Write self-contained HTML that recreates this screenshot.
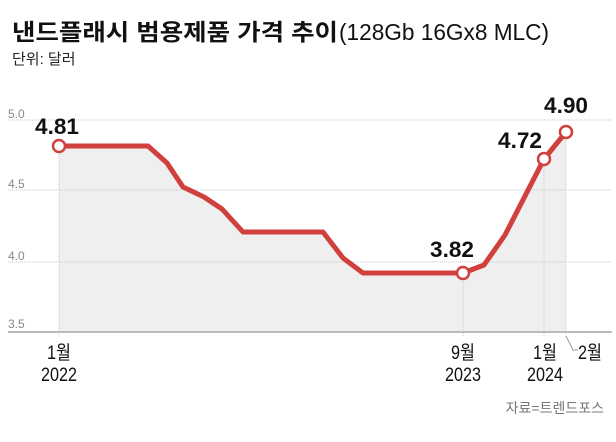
<!DOCTYPE html>
<html><head><meta charset="utf-8"><style>
html,body{margin:0;padding:0;background:#fff;width:616px;height:442px;overflow:hidden}
text{font-family:"Liberation Sans","Noto Sans CJK KR",sans-serif}
</style></head><body>
<svg width="616" height="442" viewBox="0 0 616 442" xmlns="http://www.w3.org/2000/svg">
<text x="12" y="40" font-size="23" font-weight="bold" fill="#111" textLength="326" lengthAdjust="spacingAndGlyphs">낸드플래시 범용제품 가격 추이</text>
<text x="339" y="40" font-size="23" fill="#111" textLength="210" lengthAdjust="spacingAndGlyphs">(128Gb 16Gx8 MLC)</text>
<text x="12" y="64" font-size="15" fill="#222">단위: 달러</text>
<polygon points="59,146 148,146 167,163 183,187 204,197 222,209 243,232 323,232 343,258 363,273 463,273 484,265 505,235 544,159 566,132 566,332 59,332" fill="#efefef"/>
<g stroke="#c8c8c8" stroke-width="1" stroke-dasharray="1,1">
<line x1="8" y1="120" x2="612" y2="120"/><line x1="8" y1="190" x2="612" y2="190"/><line x1="8" y1="262" x2="612" y2="262"/>
<line x1="59" y1="146" x2="59" y2="336"/><line x1="463" y1="273" x2="463" y2="336"/><line x1="544" y1="159" x2="544" y2="336"/><line x1="566" y1="132" x2="566" y2="336"/>
</g>
<line x1="8" y1="332" x2="612" y2="332" stroke="#bbb" stroke-width="2"/>
<polyline points="566,336 573,350 578,350" fill="none" stroke="#999" stroke-width="1"/>
<g font-size="12" fill="#888"><text x="8" y="118">5.0</text><text x="8" y="188">4.5</text><text x="8" y="260">4.0</text><text x="8" y="328">3.5</text></g>
<polyline points="59,146 148,146 167,163 183,187 204,197 222,209 243,232 323,232 343,258 363,273 463,273 484,265 505,235 544,159 566,132" fill="none" stroke="#d0403d" stroke-width="5" stroke-linejoin="round"/>
<g fill="#fff" stroke="#d0403d" stroke-width="2.5">
<circle cx="59" cy="146" r="6"/><circle cx="463" cy="273" r="6"/><circle cx="544" cy="159" r="6"/><circle cx="566" cy="132" r="6"/></g>
<g font-size="22" font-weight="bold" fill="#111" text-anchor="middle">
<text x="57" y="134" textLength="44" lengthAdjust="spacingAndGlyphs">4.81</text><text x="452" y="257" textLength="44" lengthAdjust="spacingAndGlyphs">3.82</text><text x="520" y="148" textLength="44" lengthAdjust="spacingAndGlyphs">4.72</text><text x="566" y="113" textLength="44" lengthAdjust="spacingAndGlyphs">4.90</text></g>
<g font-size="19" fill="#111" text-anchor="middle">
<text x="59" y="359" textLength="24" lengthAdjust="spacingAndGlyphs">1월</text><text x="59" y="381" textLength="36" lengthAdjust="spacingAndGlyphs">2022</text>
<text x="463" y="359" textLength="24" lengthAdjust="spacingAndGlyphs">9월</text><text x="463" y="381" textLength="36" lengthAdjust="spacingAndGlyphs">2023</text>
<text x="545" y="359" textLength="24" lengthAdjust="spacingAndGlyphs">1월</text><text x="545" y="381" textLength="36" lengthAdjust="spacingAndGlyphs">2024</text>
<text x="590" y="359" textLength="24" lengthAdjust="spacingAndGlyphs">2월</text></g>
<text x="604" y="413" font-size="14" fill="#777" text-anchor="end">자료=트렌드포스</text>
</svg>
</body></html>
